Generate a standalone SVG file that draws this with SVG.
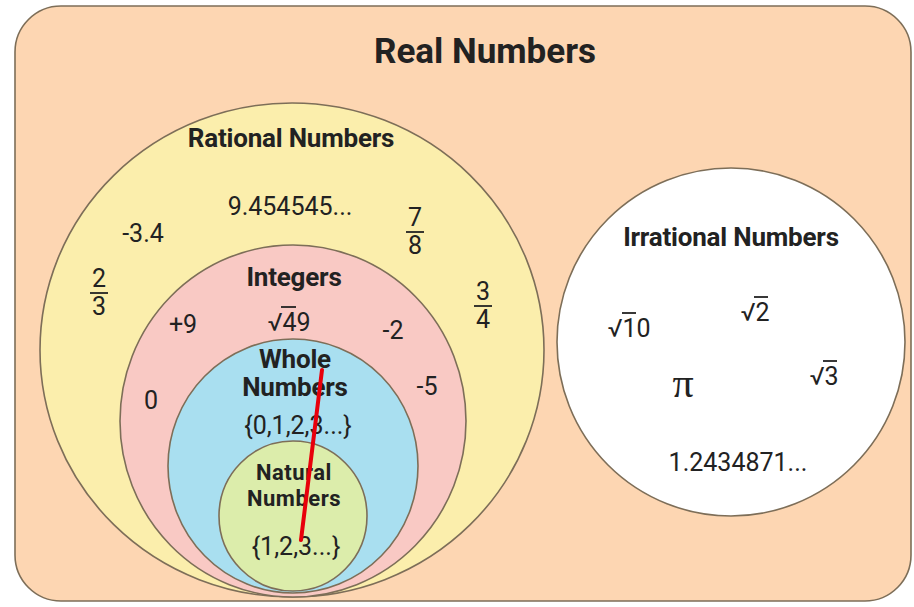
<svg xmlns="http://www.w3.org/2000/svg" width="914" height="607" viewBox="0 0 914 607">
<style>
text{font-family:Roboto,"Liberation Sans",sans-serif;fill:#222;text-anchor:middle}
.t{font-weight:bold;font-size:26px;letter-spacing:-0.2px}
.s{font-weight:bold;font-size:22px;letter-spacing:0.5px}
.n{font-size:25px}
.ring{stroke:#7d6e58;stroke-width:1.6}
.bar{stroke:#222;stroke-width:1.8}
</style>
<rect x="15" y="6" width="896" height="595" rx="46" fill="#fdd6b2" stroke="#7d6e58" stroke-width="1.6"/>
<text x="485" y="63" style="font-weight:bold;font-size:35px">Real Numbers</text>
<g id="rational">
<ellipse class="ring" cx="292" cy="350" rx="252" ry="247" fill="#fbeeac"/>
<text class="t" x="291" y="147">Rational Numbers</text>
<text class="n" x="290" y="215">9.454545...</text>
<text class="n" x="143" y="242">-3.4</text>
<text class="n" x="415" y="226">7</text><line class="bar" x1="406" y1="232" x2="424" y2="232"/><text class="n" x="415" y="254">8</text>
<text class="n" x="99" y="287">2</text><line class="bar" x1="90" y1="293" x2="108" y2="293"/><text class="n" x="99" y="315">3</text>
<text class="n" x="483" y="300">3</text><line class="bar" x1="474" y1="306" x2="492" y2="306"/><text class="n" x="483" y="328">4</text>
</g>
<g id="integers">
<ellipse class="ring" cx="293" cy="421" rx="173" ry="176" fill="#f9c9c4"/>
<text class="t" x="294" y="286">Integers</text>
<text class="n" x="183" y="333">+9</text>
<text class="n" x="289" y="331">√49</text><line class="bar" x1="281" y1="307" x2="296" y2="307"/>
<text class="n" x="393" y="339">-2</text>
<text class="n" x="151" y="409">0</text>
<text class="n" x="427" y="395">-5</text>
</g>
<g id="whole">
<ellipse class="ring" cx="293" cy="466" rx="125" ry="127" fill="#a9dff0"/>
<text class="t" x="295" y="368">Whole</text>
<text class="t" x="295" y="396">Numbers</text>
<text class="n" x="298" y="434">{0,1,2,3...}</text>
</g>
<g id="natural">
<ellipse class="ring" cx="293" cy="516" rx="74" ry="75" fill="#dcedab"/>
<text class="s" x="294" y="480">Natural</text>
<text class="s" x="294" y="506">Numbers</text>
<text class="n" x="296" y="555">{1,2,3...}</text>
</g>
<g id="irrational">
<circle class="ring" cx="731" cy="342" r="174" fill="#ffffff"/>
<text class="t" x="731" y="246">Irrational Numbers</text>
<text class="n" x="629" y="337">√10</text><line class="bar" x1="622" y1="313" x2="636" y2="313"/>
<text class="n" x="755" y="321">√2</text><line class="bar" x1="754" y1="297" x2="768" y2="297"/>
<text x="683" y="397" style="font-size:42px;font-family:'Liberation Serif',serif">π</text>
<text class="n" x="824" y="385">√3</text><line class="bar" x1="823" y1="361" x2="837" y2="361"/>
<text class="n" x="738" y="471">1.2434871...</text>
</g>
<g id="connectors">
<line x1="322" y1="370" x2="301" y2="540" stroke="#e8000b" stroke-width="4" stroke-linecap="round"/>
</g>
</svg>
